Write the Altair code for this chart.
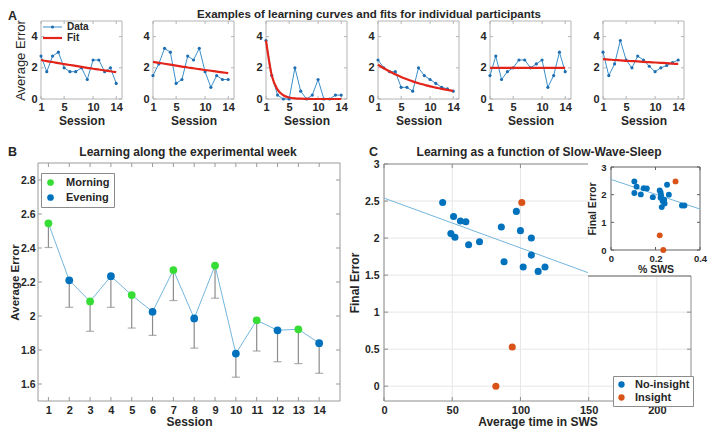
import altair as alt
import pandas as pd

# ---------------- data ----------------
sessions = list(range(1, 15))

a_values = [
    [2.75, 1.75, 2.75, 3.0, 2.0, 1.75, 1.75, 2.0, 1.25, 2.5, 2.5, 1.75, 2.0, 1.0],
    [1.5, 2.25, 3.25, 3.0, 1.0, 1.25, 2.75, 2.5, 3.25, 1.75, 0.75, 1.5, 1.25, 1.25],
    [3.75, 1.5, 0.25, 0.0, 0.0, 2.0, 0.5, 0.0, 0.25, 1.25, 0.0, 0.0, 0.25, 0.25],
    [2.5, 2.0, 1.75, 1.75, 0.75, 0.75, 0.5, 2.0, 1.5, 1.25, 1.0, 0.75, 0.65, 0.5],
    [1.5, 2.75, 1.25, 1.75, 2.0, 2.5, 2.5, 2.0, 2.25, 2.5, 0.75, 1.5, 3.0, 1.75],
    [3.0, 1.5, 2.25, 3.75, 2.5, 2.0, 2.75, 2.5, 2.1, 1.75, 2.0, 2.15, 2.33, 2.5],
]
a_fits = [
    [2.50, 2.43, 2.37, 2.30, 2.24, 2.18, 2.12, 2.06, 2.00, 1.94, 1.89, 1.83, 1.78, 1.72],
    [2.38, 2.32, 2.26, 2.20, 2.14, 2.08, 2.02, 1.97, 1.91, 1.86, 1.81, 1.76, 1.71, 1.66],
    [3.75, 1.50, 0.60, 0.24, 0.10, 0.04, 0.02, 0.01, 0.0, 0.0, 0.0, 0.0, 0.0, 0.0],
    [2.20, 1.97, 1.76, 1.58, 1.41, 1.27, 1.13, 1.01, 0.91, 0.81, 0.73, 0.65, 0.58, 0.52],
    [2.0, 2.0, 2.0, 2.0, 2.0, 2.0, 2.0, 2.0, 2.0, 2.0, 2.0, 2.0, 2.0, 2.0],
    [2.55, 2.53, 2.50, 2.48, 2.45, 2.43, 2.41, 2.38, 2.36, 2.34, 2.32, 2.30, 2.27, 2.25],
]
a_xticks = [1, 5, 10, 14]
a_yticks = [0, 2, 4]
a_legend = ["Data", "Fit"]

b_mean = [2.545, 2.21, 2.086, 2.234, 2.123, 2.025, 2.27, 1.986, 2.297, 1.779, 1.975, 1.916, 1.922, 1.84]
b_low = [2.403, 2.051, 1.91, 2.051, 1.929, 1.886, 2.091, 1.811, 2.105, 1.64, 1.794, 1.731, 1.72, 1.663]
b_period = ["Morning", "Evening"] * 7
b_yticks = [1.6, 1.8, 2.0, 2.2, 2.4, 2.6, 2.8]

c_time = [43, 51, 49, 52, 56, 60, 62, 70, 86, 88, 97, 100, 102, 108, 108, 113, 118, 101, 94, 82]
c_err = [2.48, 2.29, 2.06, 2.01, 2.23, 2.22, 1.91, 1.95, 2.15, 1.68, 2.36, 2.10, 1.61, 2.00, 1.77, 1.55, 1.61, 2.48, 0.53, 0.0]
c_group = ["No-insight"] * 17 + ["Insight"] * 3
c_reg_x = [0, 150]
c_reg_y = [2.54, 1.53]
c_xticks = [0, 50, 100, 150, 200]
c_yticks = [0, 0.5, 1, 1.5, 2, 2.5, 3]

ins_sws = [0.105, 0.115, 0.105, 0.134, 0.147, 0.161, 0.188, 0.219, 0.223, 0.225, 0.223, 0.232,
           0.239, 0.241, 0.228, 0.252, 0.26, 0.319, 0.33, 0.29, 0.219, 0.235]
ins_err = [2.48, 2.29, 2.06, 2.01, 2.23, 2.22, 1.91, 2.15, 2.08, 1.98, 1.89, 1.77,
           1.82, 1.68, 1.55, 2.36, 2.0, 1.61, 1.61, 2.48, 0.53, 0.0]
ins_group = ["No-insight"] * 19 + ["Insight"] * 3
ins_reg_x = [0, 0.4]
ins_reg_y = [2.55, 1.48]
ins_xticks = [0, 0.2, 0.4]
ins_yticks = [0, 1, 2, 3]

title_a = "Examples of learning curves and fits for individual participants"
title_b = "Learning along the experimental week"
title_c = "Learning as a function of Slow-Wave-Sleep"

# ---------------- layout / style ----------------
W, H = 702, 423
M = 8
FONT = "Liberation Sans"
TXT = "#262626"
BLUE = "#0072BD"
ORANGE = "#D95319"
GREEN = "#35DD35"
RED = "#E3241B"
LINEBLUE = "#3A8FCB"
REGBLUE = "#74B6DD"
ERRGREY = "#8C8C8C"

A_LEFT = [41, 153, 266, 378, 490, 603]
A_W = 81
A_TOP, A_BOTTOM = 21, 99
A_XDOM, A_YDOM = [1, 15], [0, 5]

B_L, B_R, B_T, B_B = 38, 340, 163, 401
B_XDOM, B_YDOM = [0.5, 15], [1.5, 2.9]

C_L, C_R, C_T, C_B = 384, 691, 164, 401
C_XDOM, C_YDOM = [0, 225], [-0.2, 3]

I_L, I_R, I_T, I_B = 611, 700, 167, 250
I_XDOM, I_YDOM = [0, 0.4], [0, 3]


def xs(dom, l, r):
    return alt.Scale(domain=dom, range=[l - M, r - M], nice=False, zero=False)


def ys(dom, b, t):
    return alt.Scale(domain=dom, range=[b - M, t - M], nice=False, zero=False)


def xaxis(values, bottom, title, lsize=10.5, tsize=12, tweight="bold", fmt=None, lpad=3, tpad=3, z=0):
    kw = dict(orient="bottom", offset=(bottom - M) - H, values=values,
              domain=False, ticks=False, grid=False, labelFont=FONT, labelFontSize=lsize,
              labelFontWeight="bold", labelColor=TXT, labelPadding=lpad, titleFont=FONT,
              titleFontSize=tsize, titleFontWeight=tweight, titleColor=TXT, titlePadding=tpad,
              labelFlush=False, labelOverlap=False, zindex=z)
    kw["title"] = title
    if fmt:
        kw["format"] = fmt
    return alt.Axis(**kw)


def yaxis(values, left, title, lsize=10.5, tsize=12, tweight="bold", fmt=None, lpad=4, tpad=4,
          z=0, title_x=None):
    kw = dict(orient="left", offset=-(left - M), values=values,
              domain=False, ticks=False, grid=False, labelFont=FONT, labelFontSize=lsize,
              labelFontWeight="bold", labelColor=TXT, labelPadding=lpad, titleFont=FONT,
              titleFontSize=tsize, titleFontWeight=tweight, titleColor=TXT, titlePadding=tpad,
              labelFlush=False, labelOverlap=False, zindex=z)
    kw["title"] = title
    if fmt:
        kw["format"] = fmt
    if title_x is not None:
        kw["titleX"] = title_x
    return alt.Axis(**kw)


def frame(xsc, ysc, xa, ya, xdom, ydom, color):
    fr = pd.DataFrame({"x0": [xdom[0]], "x1": [xdom[1]], "y0": [ydom[0]], "y1": [ydom[1]]})
    return alt.Chart(fr).mark_rect(fillOpacity=0, stroke=color, strokeWidth=1).encode(
        x=alt.X("x0:Q", scale=xsc, axis=xa), x2="x1:Q",
        y=alt.Y("y0:Q", scale=ysc, axis=ya), y2="y1:Q")


def edge_ticks(xsc, ysc, xa, ya, xt, yt, xdom, ydom, color, ln=4):
    """Small inward tick marks on all four sides of a boxed panel."""
    nx, ny = len(xt), len(yt)
    dfx = pd.DataFrame({"t": xt, "lo": [ydom[0]] * nx, "hi": [ydom[1]] * nx})
    dfy = pd.DataFrame({"t": yt, "lo": [xdom[0]] * ny, "hi": [xdom[1]] * ny})
    out = []
    for fld, off in (("lo", -ln / 2), ("hi", ln / 2)):
        out.append(alt.Chart(dfx).mark_tick(orient="vertical", size=ln, thickness=1, yOffset=off,
                                            color=color, opacity=1).encode(
            x=alt.X("t:Q", scale=xsc, axis=xa), y=alt.Y(fld + ":Q", scale=ysc, axis=ya)))
    for fld, off in (("lo", ln / 2), ("hi", -ln / 2)):
        out.append(alt.Chart(dfy).mark_tick(orient="horizontal", size=ln, thickness=1, xOffset=off,
                                            color=color, opacity=1).encode(
            y=alt.Y("t:Q", scale=ysc, axis=ya), x=alt.X(fld + ":Q", scale=xsc, axis=xa)))
    return out


def text(s, x, y, size=11, weight="bold", align="left", color=TXT):
    kw = dict(font=FONT, fontSize=size, fontWeight=weight, align=align, baseline="middle", color=color)
    return alt.Chart(pd.DataFrame({"t": [s]})).mark_text(**kw).encode(
        text="t:N", x=alt.value(x - M), y=alt.value(y - M))


layers = []

# ---------------- panel A ----------------
for i in range(6):
    l = A_LEFT[i]
    r = l + A_W
    xsc = xs(A_XDOM, l, r)
    ysc = ys(A_YDOM, A_BOTTOM, A_TOP)
    df = pd.DataFrame({"session": sessions, "value": a_values[i], "fit": a_fits[i]})
    xa = xaxis(a_xticks, A_BOTTOM, "Session", lsize=11, tsize=12, lpad=2, tpad=3)
    ya = yaxis(a_yticks, l, "Average Error" if i == 0 else None, lsize=11, tsize=13,
               tweight="normal", lpad=4, tpad=3)
    fr = frame(xsc, ysc, xa, ya, A_XDOM, A_YDOM, "#B4B4B4")
    tk = edge_ticks(xsc, ysc, xa, ya, a_xticks, a_yticks, A_XDOM, A_YDOM, "#B4B4B4", ln=3)
    line = alt.Chart(df).mark_line(color=LINEBLUE, strokeWidth=1).encode(
        x=alt.X("session:Q", scale=xsc, axis=xa), y=alt.Y("value:Q", scale=ysc, axis=ya))
    pts = alt.Chart(df).mark_circle(size=10, color="#1E6DB0", opacity=1).encode(
        x=alt.X("session:Q", scale=xsc, axis=xa), y=alt.Y("value:Q", scale=ysc, axis=ya))
    fit = alt.Chart(df).mark_line(color=RED, strokeWidth=2.2, interpolate="monotone").encode(
        x=alt.X("session:Q", scale=xsc, axis=xa), y=alt.Y("fit:Q", scale=ysc, axis=ya))
    layers.append(alt.layer(fr, *tk, line, pts, fit))

# legend of panel A (drawn glyphs)
one = pd.DataFrame({"k": [0]})
layers.append(alt.Chart(one).mark_rule(color=LINEBLUE, strokeWidth=1).encode(
    x=alt.value(43 - M), x2=alt.value(62 - M), y=alt.value(27 - M)))
layers.append(alt.Chart(one).mark_circle(color="#1E6DB0", size=10, opacity=1).encode(
    x=alt.value(52.5 - M), y=alt.value(27 - M)))
layers.append(alt.Chart(one).mark_rule(color=RED, strokeWidth=2.2).encode(
    x=alt.value(43 - M), x2=alt.value(62 - M), y=alt.value(38 - M)))
layers.append(text(a_legend[0], 67, 27, size=10))
layers.append(text(a_legend[1], 67, 38, size=10))

# ---------------- panel B ----------------
bx = xs(B_XDOM, B_L, B_R)
by = ys(B_YDOM, B_B, B_T)
bxa = xaxis(sessions, B_B, "Session", lsize=11, tsize=12, lpad=3, tpad=1)
bya = yaxis(b_yticks, B_L, "Average Error", lsize=10.5, tsize=11.5, fmt=".1~f", lpad=3,
            title_x=-(B_L - 20.5))
bdf = pd.DataFrame({"session": sessions, "mean": b_mean, "low": b_low, "period": b_period})
b_frame = frame(bx, by, bxa, bya, B_XDOM, B_YDOM, "#9A9A9A")
b_ticks = edge_ticks(bx, by, bxa, bya, sessions, b_yticks, B_XDOM, B_YDOM, "#9A9A9A", ln=4)
b_err = alt.Chart(bdf).mark_rule(color=ERRGREY, strokeWidth=1.2).encode(
    x=alt.X("session:Q", scale=bx, axis=bxa), y=alt.Y("low:Q", scale=by, axis=bya), y2="mean:Q")
b_cap = alt.Chart(bdf).mark_tick(color=ERRGREY, orient="horizontal", size=8, thickness=1.2).encode(
    x=alt.X("session:Q", scale=bx, axis=bxa), y=alt.Y("low:Q", scale=by, axis=bya))
b_line = alt.Chart(bdf).mark_line(color=REGBLUE, strokeWidth=1).encode(
    x=alt.X("session:Q", scale=bx, axis=bxa), y=alt.Y("mean:Q", scale=by, axis=bya))
b_pts = alt.Chart(bdf).mark_circle(size=60, opacity=1).encode(
    x=alt.X("session:Q", scale=bx, axis=bxa), y=alt.Y("mean:Q", scale=by, axis=bya),
    color=alt.Color("period:N", scale=alt.Scale(domain=["Morning", "Evening"], range=[GREEN, BLUE]),
                    legend=alt.Legend(orient="none", legendX=41 - M, legendY=173 - M, title=None,
                                      fillColor="white", strokeColor="#8C8C8C", padding=4,
                                      labelFont=FONT, labelFontSize=11, labelFontWeight="bold",
                                      labelColor=TXT, symbolSize=45, symbolType="circle",
                                      rowPadding=3, labelOffset=10, symbolStrokeWidth=0)))
layers.append(alt.layer(b_frame, *b_ticks, b_err, b_cap, b_line, b_pts))

# ---------------- panel C ----------------
cx = xs(C_XDOM, C_L, C_R)
cy = ys(C_YDOM, C_B, C_T)
cxa = xaxis(c_xticks, C_B, "Average time in SWS", lsize=11, tsize=12, lpad=3, tpad=1)
cya = yaxis(c_yticks, C_L, "Final Error", lsize=10.5, tsize=12, fmt=".1~f", lpad=5, tpad=3)
cdf = pd.DataFrame({"time": c_time, "err": c_err, "group": c_group})
gx = pd.DataFrame({"g": c_xticks, "lo": [C_YDOM[0]] * len(c_xticks), "hi": [C_YDOM[1]] * len(c_xticks)})
gy = pd.DataFrame({"g": c_yticks, "lo": [C_XDOM[0]] * len(c_yticks), "hi": [C_XDOM[1]] * len(c_yticks)})
c_gx = alt.Chart(gx).mark_rule(color="#E6E6E6", strokeWidth=1).encode(
    x=alt.X("g:Q", scale=cx, axis=cxa), y=alt.Y("lo:Q", scale=cy, axis=cya), y2="hi:Q")
c_gy = alt.Chart(gy).mark_rule(color="#E6E6E6", strokeWidth=1).encode(
    y=alt.Y("g:Q", scale=cy, axis=cya), x=alt.X("lo:Q", scale=cx, axis=cxa), x2="hi:Q")
c_frame = frame(cx, cy, cxa, cya, C_XDOM, C_YDOM, "#8C8C8C")
c_ticks = edge_ticks(cx, cy, cxa, cya, c_xticks, c_yticks, C_XDOM, C_YDOM, "#8C8C8C", ln=4)
regdf = pd.DataFrame({"x": c_reg_x, "y": c_reg_y})
c_reg = alt.Chart(regdf).mark_line(color=REGBLUE, strokeWidth=1).encode(
    x=alt.X("x:Q", scale=cx, axis=cxa), y=alt.Y("y:Q", scale=cy, axis=cya))
c_pts = alt.Chart(cdf).mark_circle(size=50, opacity=1).encode(
    x=alt.X("time:Q", scale=cx, axis=cxa), y=alt.Y("err:Q", scale=cy, axis=cya),
    color=alt.Color("group:N", scale=alt.Scale(domain=["No-insight", "Insight"], range=[BLUE, ORANGE]),
                    legend=alt.Legend(orient="none", legendX=613 - M, legendY=376 - M, title=None,
                                      fillColor="white", strokeColor="#8C8C8C", padding=3,
                                      labelFont=FONT, labelFontSize=11, labelFontWeight="bold",
                                      labelColor=TXT, symbolSize=40, symbolType="circle",
                                      rowPadding=1, labelOffset=8, symbolStrokeWidth=0)))
layers.append(alt.layer(c_gx, c_gy, c_frame, *c_ticks, c_reg, c_pts))

# ---------------- inset ----------------
layers.append(alt.Chart(one).mark_rect(color="white").encode(
    x=alt.value(588 - M), x2=alt.value(W), y=alt.value(155 - M), y2=alt.value(276 - M)))
layers.append(alt.Chart(one).mark_rule(color="#555555", strokeWidth=1).encode(
    x=alt.value(588 - M), x2=alt.value(C_R - M), y=alt.value(276 - M)))
ix = xs(I_XDOM, I_L, I_R)
iy = ys(I_YDOM, I_B, I_T)
ixa = xaxis(ins_xticks, I_B, "% SWS", lsize=9.5, tsize=10.5, fmt=".1~f", lpad=3, tpad=2, z=2)
iya = yaxis(ins_yticks, I_L, "Final Error", lsize=9.5, tsize=10.5, lpad=5, tpad=3, z=2)
idf = pd.DataFrame({"sws": ins_sws, "err": ins_err, "group": ins_group})
i_frame = frame(ix, iy, ixa, iya, I_XDOM, I_YDOM, "#606060")
i_ticks = edge_ticks(ix, iy, ixa, iya, ins_xticks, ins_yticks, I_XDOM, I_YDOM, "#606060", ln=3)
iregdf = pd.DataFrame({"x": ins_reg_x, "y": ins_reg_y})
i_reg = alt.Chart(iregdf).mark_line(color=REGBLUE, strokeWidth=1).encode(
    x=alt.X("x:Q", scale=ix, axis=ixa), y=alt.Y("y:Q", scale=iy, axis=iya))
i_pts = alt.Chart(idf).mark_circle(size=35, opacity=1).encode(
    x=alt.X("sws:Q", scale=ix, axis=ixa), y=alt.Y("err:Q", scale=iy, axis=iya),
    color=alt.Color("group:N", scale=alt.Scale(domain=["No-insight", "Insight"], range=[BLUE, ORANGE]),
                    legend=None))
layers.append(alt.layer(i_frame, *i_ticks, i_reg, i_pts))

# ---------------- titles ----------------
layers.append(text("A", 8, 15.5, size=12.5))
layers.append(text(title_a, 369, 15, size=11.5, align="center"))
layers.append(text("B", 8, 152, size=12.5))
layers.append(text(title_b, 188, 152, size=12, align="center"))
layers.append(text("C", 369, 152, size=12.5))
layers.append(text(title_c, 539, 152, size=12, align="center"))

chart = alt.layer(*layers).resolve_scale(
    x="independent", y="independent", color="independent"
).properties(
    width=W, height=H, autosize=alt.AutoSizeParams(type="none"), padding=0
).configure_view(strokeWidth=0)

chart.save("out.html", embed_options={"renderer": "svg", "actions": False})
